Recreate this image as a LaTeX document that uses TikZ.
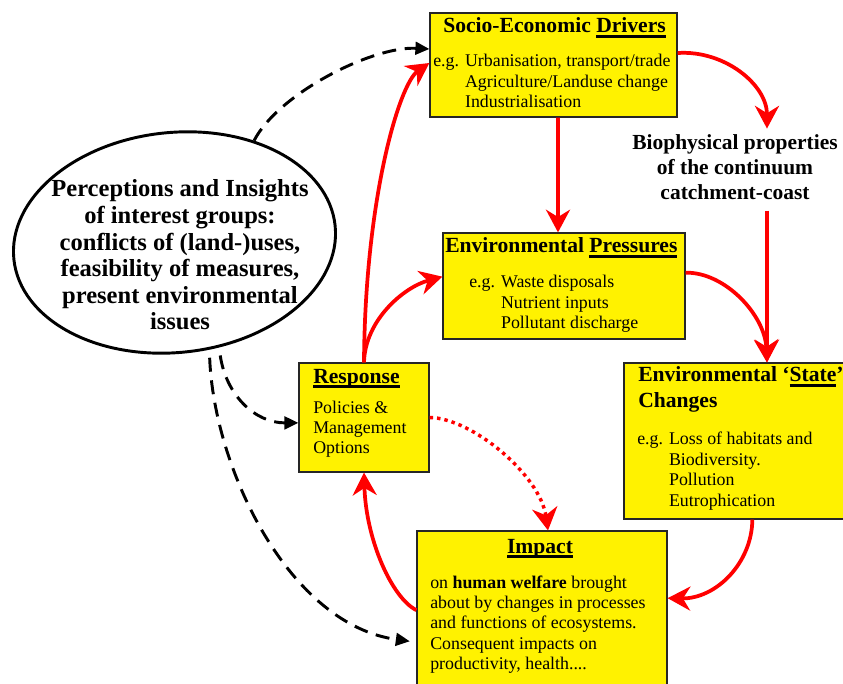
\documentclass[tikz,border=0pt]{standalone}
\usepackage{fontspec}
\setmainfont{Liberation Serif}
\usetikzlibrary{arrows.meta,shapes.geometric}

\newsavebox\hulbox
\newcommand{\hul}[1]{\sbox\hulbox{#1}\rlap{\rule[-3.8pt]{\wd\hulbox}{2.2pt}}\usebox\hulbox}
\newcommand{\rows}[2]{\begin{tabular}[t]{@{}#1@{}}#2\end{tabular}}

\begin{document}
\begin{tikzpicture}[x=0.75pt, y=-0.75pt,
    box/.style={draw=black!85, fill=yellow, line width=0.9pt, inner sep=0pt},
    hd/.style={inner sep=0pt, font=\fontsize{16.2}{19.5}\selectfont\bfseries},
    txt/.style={inner sep=0pt, font=\fontsize{13.4}{15.3}\selectfont},
    flow/.style={draw=red, line width=2.8pt, -{Stealth[length=17pt, width=18pt, inset=5.5pt]}},
    hint/.style={draw=red, line width=2.6pt, dash pattern=on 2.6pt off 3pt, -{Stealth[length=17pt, width=19pt, inset=5.5pt]}},
    view/.style={draw=black, line width=2.2pt, dash pattern=on 10.5pt off 6.5pt, -{Triangle[length=10.5pt, width=9.5pt]}}]
        \useasboundingbox (0,0) rectangle (843,684);

        \node[box, minimum width=185.25pt, minimum height=78pt] (drv) at (553.5,65) {};
        \node[box, minimum width=181.5pt, minimum height=79.5pt] (prs) at (564,286) {};
        \node[box, minimum width=214.5pt, minimum height=117pt] (st) at (767,441) {};
        \node[box, minimum width=97.5pt, minimum height=81.75pt] (rsp) at (364,417.5) {};
        \node[box, minimum width=187.5pt, minimum height=126.75pt] (imp) at (542,615.5) {};
        \node[draw, ellipse, line width=2.2pt, minimum width=242.25pt, minimum height=165pt, inner sep=0pt, rotate=6] (prc) at (174.5,242.5) {};

        \node[hd, anchor=base west] (drvhd) at (443,33) {Socio-Economic \hul{Drivers}};
        \node[txt, anchor=base west] (drvtx) at (433,67) {\rows{l@{\hspace{4.5pt}}l}{e.g. & Urbanisation, transport/trade\\ & Agriculture/Landuse change\\ & Industrialisation}};

        \node[hd, anchor=base west] (prshd) at (445,253) {Environmental \hul{Pressures}};
        \node[txt, anchor=base west] (prstx) at (469,288) {\rows{l@{\hspace{4.5pt}}l}{e.g. & Waste disposals\\ & Nutrient inputs\\ & Pollutant discharge}};

        \node[hd, anchor=base west] (sthd) at (638,382) {\rows{l}{Environmental ‘\hul{State}’\\Changes}};
        \node[txt, anchor=base west] (sttx) at (637,445) {\rows{l@{\hspace{4.5pt}}l}{e.g. & Loss of habitats and\\ & Biodiversity.\\ & Pollution\\ & Eutrophication}};

        \node[hd, anchor=base west] (rsphd) at (313,383) {\hul{Response}};
        \node[txt, anchor=base west] (rsptx) at (313,413) {\rows{l}{Policies \&\\Management\\Options}};

        \node[hd, anchor=base] (imphd) at (540,553) {\hul{Impact}};
        \node[txt, anchor=base west] (imptx) at (430,588) {\rows{l}{on \textbf{human welfare} brought\\about by changes in processes\\and functions of ecosystems.\\Consequent impacts on\\productivity, health....}};

        \node[inner sep=0pt, anchor=base, font=\fontsize{18.4}{19.9}\selectfont\bfseries] (prctx) at (180,197) {\rows{c}{Perceptions and Insights\\of interest groups:\\conflicts of (land-)uses,\\feasibility of measures,\\present environmental\\issues}};
        \node[inner sep=3pt, anchor=base, font=\fontsize{16.1}{18.4}\selectfont\bfseries] (bio) at (735,150) {\rows{c}{Biophysical properties\\of the continuum\\catchment-coast}};

        \draw[flow] ([xshift=3.4pt]drv.south) -- ([xshift=-4.5pt]prs.north);
        \draw[flow] ([yshift=9pt]drv.east) .. controls (725,50) and (767,85) .. (bio.north -| st.north);
        \draw[flow] (bio.south -| st.north) -- (st.north);
        \draw[flow] ([yshift=10pt]prs.east) .. controls (725,272) and (765,315) .. (st.north);
        \draw[flow] ([xshift=-11pt]st.south) .. controls (752,563) and (716,599) .. ([yshift=13pt]imp.east);
        \draw[flow] ([yshift=4pt]imp.west) .. controls (392,598) and (366,540) .. (rsp.south);
        \draw[flow] (rsp.north) .. controls (365,200) and (399,84) .. ([yshift=1.5pt]drv.west);
        \draw[flow] (rsp.north) .. controls (365,320) and (404,287) .. ([yshift=7pt]prs.west);
        \draw[hint] (rsp.east) .. controls (472,418) and (540,475) .. ([xshift=4.5pt]imp.north);

        \draw[view] (prc.46) .. controls (278,94) and (372,46) .. ([yshift=12pt]drv.west);
        \draw[view, shorten <=6pt] (prc.287) .. controls (226,395) and (255,423) .. ([yshift=-4pt]rsp.west);
        \draw[view, shorten <=6pt, shorten >=5pt] (prc.282) .. controls (214,470) and (290,625) .. ([yshift=-20pt]imp.west);
\end{tikzpicture}
\end{document}
